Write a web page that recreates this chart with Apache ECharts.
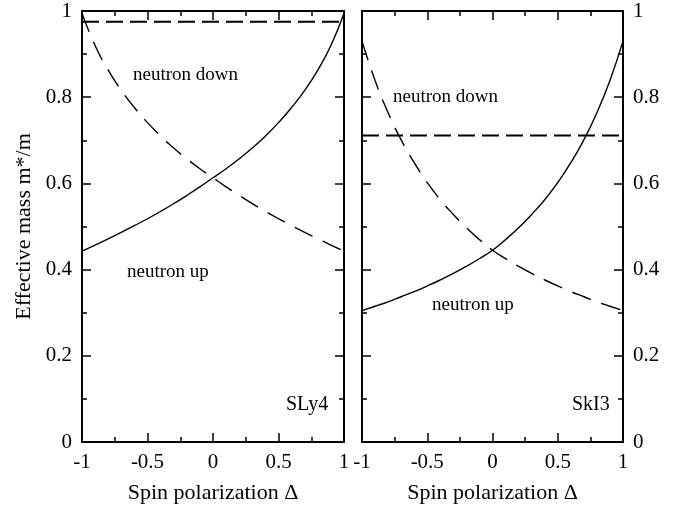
<!DOCTYPE html>
<html>
<head>
<meta charset="utf-8">
<script src="https://cdn.jsdelivr.net/npm/echarts@6/dist/echarts.min.js"></script>
<style>
  html, body { margin: 0; padding: 0; background: #fff; }
  #chart { width: 686px; height: 509px; }
</style>
</head>
<body>
<div id="chart"></div>
<script>
// Spin polarization grid
const delta = [-1, -0.9, -0.8, -0.7, -0.6, -0.5, -0.4, -0.3, -0.2, -0.1, 0,
               0.1, 0.2, 0.3, 0.4, 0.5, 0.6, 0.7, 0.8, 0.9, 1];

// SLy4: effective mass m*/m of spin-up and spin-down neutrons
const sly4Up   = [0.443, 0.457, 0.4715, 0.4865, 0.502, 0.518, 0.535, 0.553, 0.572, 0.592, 0.613,
                  0.634, 0.657, 0.682, 0.710, 0.741, 0.776, 0.816, 0.863, 0.920, 0.995];
const sly4Down = [0.995, 0.920, 0.863, 0.816, 0.776, 0.741, 0.710, 0.682, 0.657, 0.634, 0.613,
                  0.592, 0.572, 0.553, 0.535, 0.518, 0.502, 0.4865, 0.4715, 0.457, 0.443];
const sly4Flat = 0.975;

// SkI3: effective mass m*/m of spin-up and spin-down neutrons
const ski3Up   = [0.305, 0.315, 0.325, 0.337, 0.349, 0.362, 0.376, 0.391, 0.4075, 0.4255, 0.445,
                  0.4695, 0.497, 0.528, 0.562, 0.602, 0.648, 0.701, 0.764, 0.839, 0.930];
const ski3Down = [0.930, 0.839, 0.764, 0.701, 0.648, 0.602, 0.562, 0.528, 0.497, 0.4695, 0.445,
                  0.4255, 0.4075, 0.391, 0.376, 0.362, 0.349, 0.337, 0.325, 0.315, 0.305];
const ski3Flat = 0.711;

const xTicks = { min: -1, max: 1, interval: 0.5 };
const yTicks = { min: 0, max: 1, interval: 0.2 };

const FONT = '"Liberation Serif", "Times New Roman", serif';
const pairs = (xs, ys) => xs.map((x, i) => [x, ys[i]]);

function xAxisDef(gridIndex, position, showLabel, name) {
  return {
    type: 'value', gridIndex, position,
    min: xTicks.min, max: xTicks.max, interval: xTicks.interval,
    axisLine: { show: true, onZero: false, lineStyle: { color: '#000', width: 2 } },
    axisTick: { show: true, inside: true, length: 9, lineStyle: { color: '#000', width: 1.5 } },
    minorTick: { show: true, splitNumber: 2, length: 5, lineStyle: { color: '#000', width: 1.5 } },
    splitLine: { show: false },
    axisLabel: { show: showLabel, margin: 10, color: '#000', fontFamily: FONT, fontSize: 21 },
    name: name || '', nameLocation: 'middle', nameGap: 40,
    nameTextStyle: { color: '#000', fontFamily: FONT, fontSize: 22 }
  };
}

function yAxisDef(gridIndex, position, showLabel, name) {
  return {
    type: 'value', gridIndex, position,
    min: yTicks.min, max: yTicks.max, interval: yTicks.interval,
    axisLine: { show: true, onZero: false, lineStyle: { color: '#000', width: 2 } },
    axisTick: { show: true, inside: true, length: 9, lineStyle: { color: '#000', width: 1.5 } },
    minorTick: { show: true, splitNumber: 2, length: 5, lineStyle: { color: '#000', width: 1.5 } },
    splitLine: { show: false },
    axisLabel: { show: showLabel, margin: 10, color: '#000', fontFamily: FONT, fontSize: 21 },
    name: name || '', nameLocation: 'middle', nameGap: 47,
    nameTextStyle: { color: '#000', fontFamily: FONT, fontSize: 22 }
  };
}

function curve(xAxisIndex, yAxisIndex, data, dashed) {
  return {
    type: 'line', xAxisIndex, yAxisIndex, data,
    smooth: true, symbol: 'none', silent: true,
    lineStyle: { color: '#000', width: 1.4, type: dashed ? [20, 11] : 'solid' }
  };
}

function flatLine(xAxisIndex, yAxisIndex, value) {
  return {
    type: 'line', xAxisIndex, yAxisIndex,
    data: [[xTicks.min, value], [xTicks.max, value]],
    symbol: 'none', silent: true,
    lineStyle: { color: '#000', width: 2, type: [17, 7] }
  };
}

function note(text, x, y, size) {
  return {
    type: 'text', x, y,
    style: { text, fill: '#000', font: size + 'px ' + FONT, textVerticalAlign: 'middle' }
  };
}

const chart = echarts.init(document.getElementById('chart'), null, { renderer: 'canvas' });
chart.setOption({
  animation: false,
  backgroundColor: '#fff',
  grid: [
    { left: 82, top: 11, width: 262, bottom: 67 },
    { left: 362, top: 11, width: 261, bottom: 67 }
  ],
  xAxis: [
    xAxisDef(0, 'bottom', true, 'Spin polarization \u0394'),
    xAxisDef(0, 'top', false),
    xAxisDef(1, 'bottom', true, 'Spin polarization \u0394'),
    xAxisDef(1, 'top', false)
  ],
  yAxis: [
    yAxisDef(0, 'left', true, 'Effective mass m*/m'),
    yAxisDef(0, 'right', false),
    yAxisDef(1, 'left', false),
    yAxisDef(1, 'right', true)
  ],
  series: [
    curve(0, 0, pairs(delta, sly4Up), false),
    curve(0, 0, pairs(delta, sly4Down), true),
    flatLine(0, 0, sly4Flat),
    curve(2, 2, pairs(delta, ski3Up), false),
    curve(2, 2, pairs(delta, ski3Down), true),
    flatLine(2, 2, ski3Flat)
  ],
  graphic: [
    note('neutron down', 133, 75, 19),
    note('neutron up', 127, 272, 19),
    note('SLy4', 286, 405, 20),
    note('neutron down', 393, 97, 19),
    note('neutron up', 432, 305, 19),
    note('SkI3', 572, 405, 20)
  ]
});
</script>
</body>
</html>
